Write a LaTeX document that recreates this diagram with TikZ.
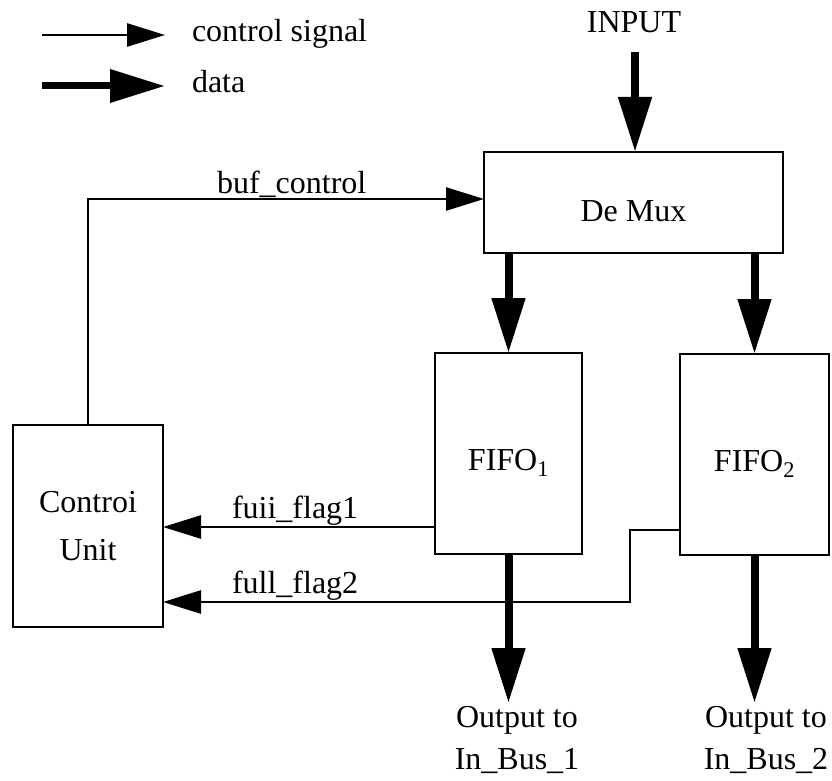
\documentclass[tikz,border=0pt]{standalone}
\usepackage{fontspec}
\setmainfont{Liberation Serif}
\usetikzlibrary{arrows.meta}
\begin{document}
\begin{tikzpicture}[x=1pt,y=-1pt,
  every node/.style={font=\fontsize{32}{44}\selectfont, inner sep=0pt, outer sep=0pt},
  blockbox/.style={draw, line width=2.6pt, rectangle},
  ctrl/.style={line width=2.6pt, -{Triangle[length=38pt,width=23pt]}},
  dataflow/.style={line width=8pt, -{Triangle[length=55pt,width=32pt]}},
  lbl/.style={anchor=base west}]
\useasboundingbox (0,0) rectangle (832,781);

% blocks
\node[blockbox, minimum width=299pt, minimum height=101pt, text height=37pt, text depth=0pt] (demux) at (633.5,202.5) {De Mux};
\node[blockbox, minimum width=147pt, minimum height=201pt, text height=33pt, text depth=0pt] (fifo1) at (508.5,453.5) {FIFO\textsubscript{1}};
\node[blockbox, minimum width=149pt, minimum height=201pt, text height=33pt, text depth=0pt] (fifo2) at (754.5,454.5) {FIFO\textsubscript{2}};
\node[blockbox, minimum width=150pt, minimum height=202pt, align=center, font=\fontsize{32}{48}\selectfont] (cu) at (88,526) {Controi\\Unit};

% input
\node[anchor=base] (input) at (634,33) {INPUT};
\coordinate (inputstart) at (635,52);
\draw[dataflow] (inputstart) -- (inputstart |- demux.north);

% buf_control
\coordinate (bc) at (0,199);
\draw[ctrl] (cu.north) -- (cu.north |- bc) -- (demux.west |- bc);
\node[lbl] (bufl) at (217,193) {buf\_control};

% demux to fifos
\draw[dataflow] (demux.south -| fifo1.north) -- (fifo1.north);
\draw[dataflow] (demux.south -| fifo2.north) -- (fifo2.north);

% flags
\coordinate (f1) at (0,527);
\draw[ctrl] (fifo1.west |- f1) -- (cu.east |- f1);
\node[lbl] (f1l) at (232,518) {fuii\_flag1};

\coordinate (bend) at (630,530);
\coordinate (f2) at (0,602);
\draw[ctrl] (fifo2.west |- bend) -- (bend) -- (bend |- f2) -- (cu.east |- f2);
\node[lbl] (f2l) at (232,593) {full\_flag2};

% outputs
\coordinate (o1) at (508.5,703);
\coordinate (o2) at (754.5,703);
\draw[dataflow] (fifo1.south) -- (o1);
\draw[dataflow] (fifo2.south) -- (o2);
\node[anchor=north, align=center, font=\fontsize{32}{42}\selectfont] (out1) at (517,706) {Output to\\In\_Bus\_1};
\node[anchor=north, align=center, font=\fontsize{32}{42}\selectfont] (out2) at (766,706) {Output to\\In\_Bus\_2};

% legend
\coordinate (l1s) at (42,35);
\coordinate (l1e) at (165,35);
\draw[ctrl] (l1s) -- (l1e);
\node[lbl] (l1t) at (192,42) {control signal};
\coordinate (l2s) at (42,86);
\coordinate (l2e) at (165,86);
\draw[line width=7pt, -{Triangle[length=55pt,width=32pt]}] (l2s) -- (l2e);
\node[lbl] (l2t) at (192,93) {data};
\end{tikzpicture}
\end{document}
